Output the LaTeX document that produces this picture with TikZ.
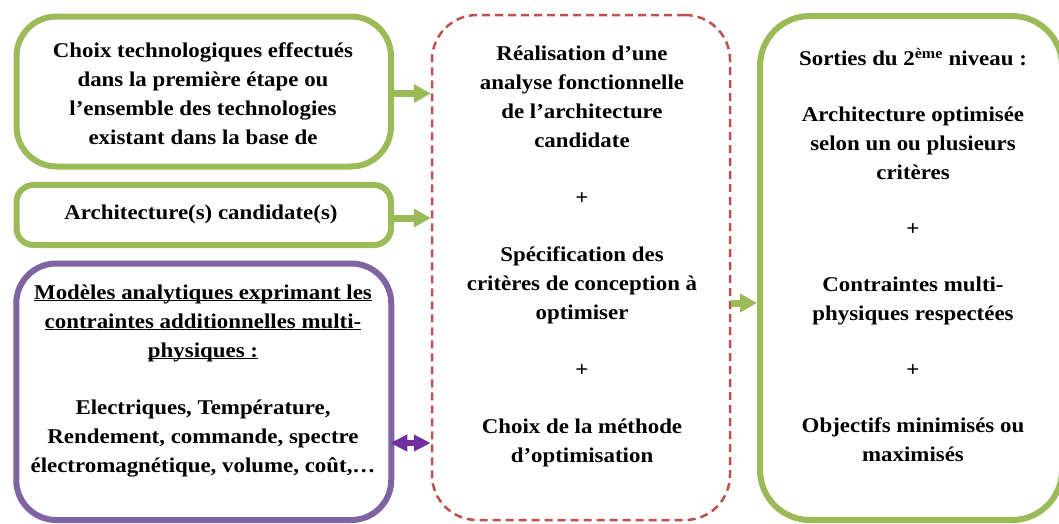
\documentclass[tikz,border=0pt]{standalone}
\usepackage{fontspec}
\setmainfont{Liberation Serif}[FakeStretch=1.09]
\usetikzlibrary{arrows.meta}
\definecolor{gr}{HTML}{9BBB59}
\definecolor{pu}{HTML}{8064A2}
\definecolor{rd}{HTML}{C0504D}
\definecolor{pa}{HTML}{7030A0}
\newcommand\ulline[1]{\underline{\smash{#1}}}
\tikzset{
  gbox/.style={draw=gr, line width=6pt, inner sep=0pt},
  pbox/.style={draw=pu, line width=6pt, inner sep=0pt},
  dbox/.style={draw=rd, line width=2.5pt, dash pattern=on 8pt off 5pt, inner sep=0pt},
  txt/.style={font=\bfseries\fontsize{21}{29}\selectfont, align=center, inner sep=0pt},
  garrow/.style={draw=gr, line width=7pt, -{Triangle[length=17pt,width=18pt,fill=gr]}},
  parrow/.style={draw=pa, line width=6pt, {Triangle[length=17pt,width=16pt,fill=pa]}-{Triangle[length=17pt,width=16pt,fill=pa]}}
}
\begin{document}
\begin{tikzpicture}[x=1pt,y=-1pt]
\fill[white] (0,0) rectangle (1059,523);
\useasboundingbox (0,0) rectangle (1059,523);
% boxes
\node[gbox, rounded corners=40pt, minimum width=374.5pt, minimum height=150pt] (b1) at (203.75,91.5) {};
\node[gbox, rounded corners=17pt, minimum width=374.5pt, minimum height=60pt] (b2) at (203.75,215) {};
\node[pbox, rounded corners=40pt, minimum width=375pt, minimum height=256.5pt] (b3) at (203.75,391.75) {};
\node[dbox, rounded corners=45pt, minimum width=298pt, minimum height=505pt] (mid) at (581,267.5) {};
\node[gbox, rounded corners=50pt, minimum width=302pt, minimum height=504pt] (out) at (911,268) {};
% texts
\node[txt] (t1) at (203,94) {Choix technologiques effectués\\dans la première étape ou\\l’ensemble des technologies\\existant dans la base de};
\node[txt] (t2) at (201,214) {Architecture(s) candidate(s)};
\node[txt] (t3) at (203,388) {\ulline{Modèles analytiques exprimant les}\\\ulline{contraintes additionnelles multi-}\\\ulline{physiques :}\\[28pt]Electriques, Température,\\Rendement, commande, spectre\\électromagnétique, volume, coût,…};
\node[txt] (tm) at (582,256) {Réalisation d’une\\analyse fonctionnelle\\de l’architecture\\candidate\\[28pt]+\\[28pt]Spécification des\\critères de conception à\\optimiser\\[28pt]+\\[28pt]Choix de la méthode\\d’optimisation};
\node[txt] (to) at (913,255) {Sorties du 2\textsuperscript{ème} niveau :\\[27pt]Architecture optimisée\\selon un ou plusieurs\\critères\\[27pt]+\\[27pt]Contraintes multi-\\physiques respectées\\[27pt]+\\[27pt]Objectifs minimisés ou\\maximisés};
% connectors
\coordinate (pa) at (0,443);
\coordinate (po) at (0,303);
\draw[garrow] ([yshift=-2pt]b1.east) -- ([yshift=-2pt]b1.east -| mid.west);
\draw[garrow] ([yshift=-3pt]b2.east) -- ([yshift=-3pt]b2.east -| mid.west);
\draw[parrow] ([xshift=-4pt]b3.east |- pa) -- (mid.west |- pa);
\draw[garrow] (mid.east |- po) -- (out.west |- po);
\end{tikzpicture}
\end{document}
